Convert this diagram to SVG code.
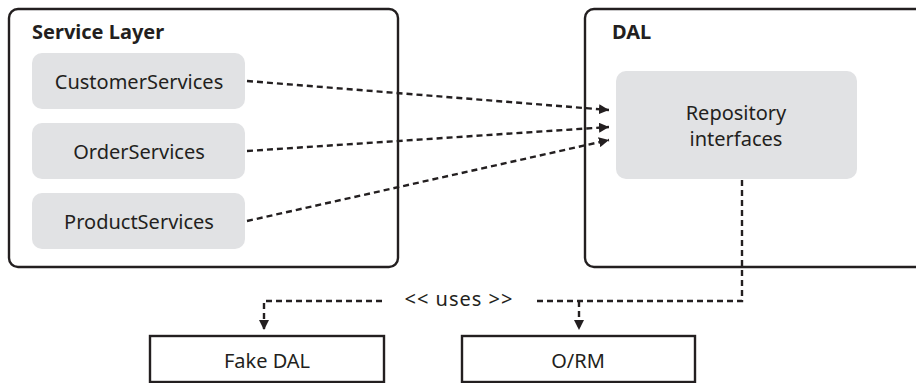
<svg xmlns="http://www.w3.org/2000/svg" width="916" height="383" viewBox="0 0 916 383">
<style>
.box{fill:#fff;stroke:#231f20;stroke-width:2.4}
.svc{fill:#e1e2e4}
.t{font-family:"Noto Sans","Open Sans",sans-serif;font-size:20px;fill:#231f20;text-anchor:middle}
.b{font-family:"Noto Sans","Open Sans",sans-serif;font-size:20px;font-weight:bold;fill:#231f20}
.d{fill:none;stroke:#231f20;stroke-width:2.4;stroke-dasharray:6 4}
</style>
<defs>
<marker id="ah" viewBox="0 0 10 10" refX="10" refY="5" markerWidth="4.2" markerHeight="4.2" orient="auto" markerUnits="strokeWidth">
<path d="M0,0 L10,5 L0,10 z" fill="#231f20"/>
</marker>
</defs>
<rect width="916" height="383" fill="#fff"/>
<g id="service-layer">
<rect class="box" x="9" y="9" width="389" height="258" rx="9"/>
<text class="b" x="32" y="39">Service Layer</text>
</g>
<g id="dal">
<rect class="box" x="585" y="9" width="340" height="258" rx="9"/>
<text class="b" x="612" y="39">DAL</text>
</g>
<g id="customer-services">
<rect class="svc" x="32" y="53" width="213" height="56" rx="10"/>
<text class="t" x="139" y="89">CustomerServices</text>
</g>
<g id="order-services">
<rect class="svc" x="32" y="123" width="213" height="56" rx="10"/>
<text class="t" x="139" y="159">OrderServices</text>
</g>
<g id="product-services">
<rect class="svc" x="32" y="193" width="213" height="56" rx="10"/>
<text class="t" x="139" y="229">ProductServices</text>
</g>
<g id="repository-interfaces">
<rect class="svc" x="616" y="71" width="241" height="108" rx="10"/>
<text class="t" x="736" y="120" font-size="19">Repository</text>
<text class="t" x="736" y="146" font-size="19">interfaces</text>
</g>
<g id="fake-dal">
<rect class="box" x="150" y="336" width="234" height="46"/>
<text class="t" x="267" y="368">Fake DAL</text>
</g>
<g id="orm">
<rect class="box" x="462" y="336" width="233" height="46"/>
<text class="t" x="578" y="368">O/RM</text>
</g>
<g id="connectors">
<path class="d" d="M247,81 L609,110" marker-end="url(#ah)"/>
<path class="d" d="M247,151 L609,127" marker-end="url(#ah)"/>
<path class="d" d="M247,221 L609,140" marker-end="url(#ah)"/>
<path class="d" d="M742,180 L742,301 L533,301"/>
<path class="d" d="M382,301 L264,301 L264,330" marker-end="url(#ah)"/>
<path class="d" d="M579,301 L579,330" marker-end="url(#ah)"/>
<text class="t" x="459" y="306" letter-spacing="1">&lt;&lt; uses &gt;&gt;</text>
</g>
</svg>
